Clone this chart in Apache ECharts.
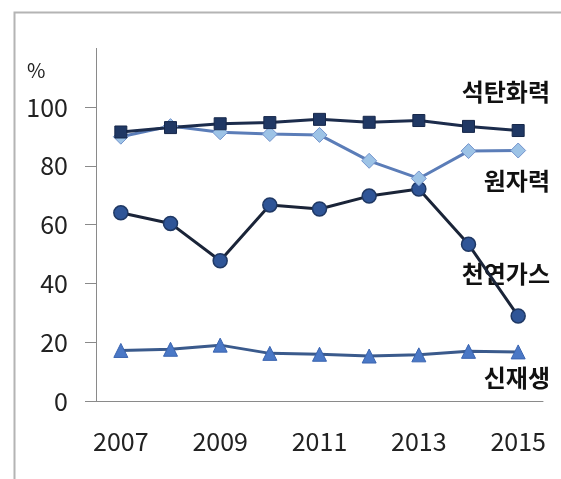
<!DOCTYPE html>
<html>
<head>
<meta charset="utf-8">
<script src="https://cdn.jsdelivr.net/npm/echarts@6/dist/echarts.min.js"></script>
<style>
  html, body { margin: 0; padding: 0; background: #fff; }
  #chart { width: 561px; height: 479px; }
</style>
</head>
<body>
<div id="chart"></div>
<script>
// 연도
var years = ['2007', '2008', '2009', '2010', '2011', '2012', '2013', '2014', '2015']
// 석탄화력
var coal = [91.5, 93, 94.3, 94.7, 95.8, 94.8, 95.4, 93.4, 92]
// 원자력
var nuclear = [89.9, 93.5, 91.4, 90.8, 90.5, 81.7, 75.7, 85, 85.2]
// 천연가스
var gas = [64, 60.4, 47.7, 66.7, 65.3, 69.7, 72.1, 53.3, 28.9]
// 신재생
var renew = [17.2, 17.6, 19, 16.2, 15.9, 15.3, 15.7, 16.9, 16.7]

var font = "'Noto Sans CJK KR', 'Noto Sans', sans-serif"
var myChart = echarts.init(document.getElementById('chart'))
var option = {
  animation: false,
  grid: { left: 96, right: 18, top: 107, bottom: 78 },
  xAxis: {
    type: 'category',
    data: years,
    boundaryGap: true,
    axisLine: { lineStyle: { color: '#8a8a8a', width: 1 } },
    axisTick: {
      interval: function (i) { return i % 2 === 0 && i < years.length },
      length: 11,
      lineStyle: { color: '#8a8a8a' }
    },
    axisLabel: { interval: 1, margin: 28, color: '#222', fontSize: 25, fontFamily: font }
  },
  yAxis: {
    type: 'value',
    min: 0,
    max: 100,
    interval: 20,
    splitLine: { show: false },
    axisLine: { show: true, lineStyle: { color: '#8a8a8a', width: 1 } },
    axisTick: { show: true, length: 11, lineStyle: { color: '#8a8a8a' } },
    axisLabel: { margin: 28, color: '#222', fontSize: 25, fontFamily: font }
  },
  graphic: [
    { type: 'rect', left: 12, top: 10, shape: { width: 600, height: 520 },
      style: { fill: 'none', stroke: '#b4b4b4', lineWidth: 2 } },
    { type: 'line', shape: { x1: 96.5, y1: 48, x2: 96.5, y2: 107 },
      style: { stroke: '#8a8a8a', lineWidth: 1 } },
    { type: 'text', left: 27, top: 60, style: { text: '%', fontSize: 20, fill: '#222', fontFamily: font } },
    { type: 'text', right: 11, top: 80, style: { text: '석탄화력', fontSize: 24, fontWeight: 'bold', fill: '#111', fontFamily: font } },
    { type: 'text', right: 11, top: 169, style: { text: '원자력', fontSize: 24, fontWeight: 'bold', fill: '#111', fontFamily: font } },
    { type: 'text', right: 11, top: 262, style: { text: '천연가스', fontSize: 24, fontWeight: 'bold', fill: '#111', fontFamily: font } },
    { type: 'text', right: 11, top: 366, style: { text: '신재생', fontSize: 24, fontWeight: 'bold', fill: '#111', fontFamily: font } }
  ],
  series: [
    {
      name: '신재생', type: 'line', data: renew,
      symbol: 'triangle', symbolSize: 14,
      lineStyle: { color: '#3a5a8c', width: 3 },
      itemStyle: { color: '#4a78c6', borderColor: '#3a64b0', borderWidth: 1 }
    },
    {
      name: '천연가스', type: 'line', data: gas,
      symbol: 'circle', symbolSize: 14,
      lineStyle: { color: '#1a2438', width: 3 },
      itemStyle: { color: '#2f5597', borderColor: '#1f3864', borderWidth: 1.5 }
    },
    {
      name: '원자력', type: 'line', data: nuclear,
      symbol: 'diamond', symbolSize: 15,
      lineStyle: { color: '#5b7db8', width: 3 },
      itemStyle: { color: '#9dc3e6', borderColor: '#7393cc', borderWidth: 1 }
    },
    {
      name: '석탄화력', type: 'line', data: coal,
      symbol: 'rect', symbolSize: 12,
      lineStyle: { color: '#1c2c4c', width: 3 },
      itemStyle: { color: '#203864', borderColor: '#17284a', borderWidth: 1 }
    }
  ]
}
myChart.setOption(option)
</script>
</body>
</html>
